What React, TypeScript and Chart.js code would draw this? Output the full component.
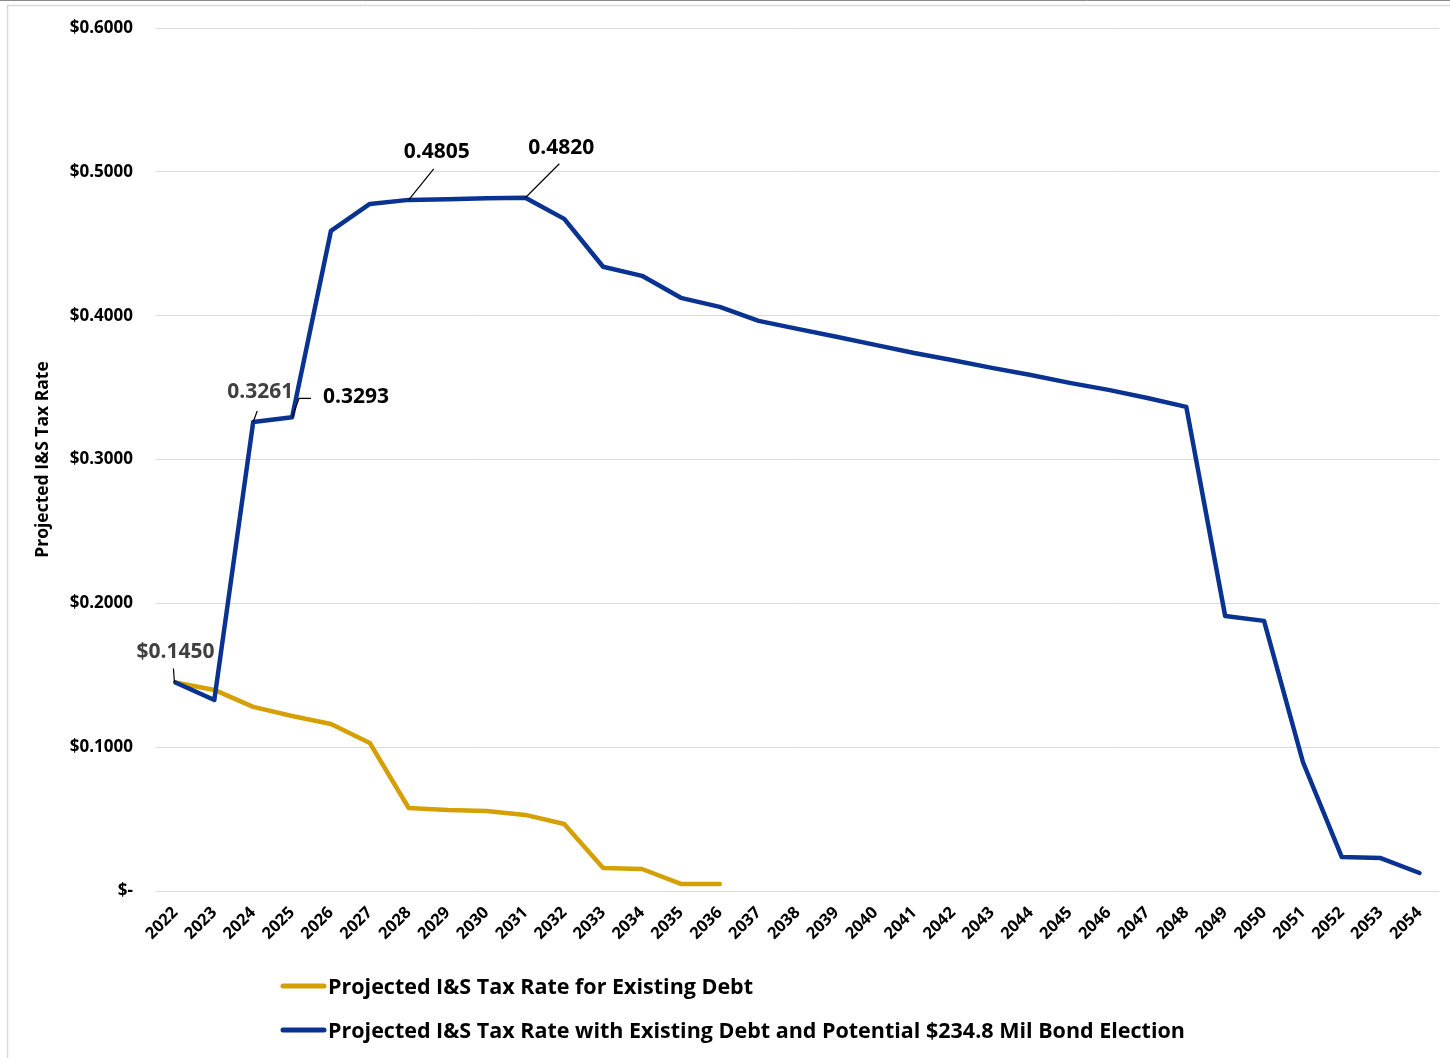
import React, { useEffect, useRef } from "react";
import { Chart, registerables } from "chart.js";

Chart.register(...registerables);

const years: string[] = [
  "2022", "2023", "2024", "2025", "2026", "2027", "2028", "2029", "2030", "2031",
  "2032", "2033", "2034", "2035", "2036", "2037", "2038", "2039", "2040", "2041",
  "2042", "2043", "2044", "2045", "2046", "2047", "2048", "2049", "2050", "2051",
  "2052", "2053", "2054",
];

const existingDebt: number[] = [
  0.145, 0.1398, 0.128, 0.1217, 0.1161, 0.1029, 0.0577, 0.0563, 0.0556, 0.0529,
  0.0466, 0.016, 0.0153, 0.0049, 0.0049,
];

const withBond: number[] = [
  0.145, 0.1328, 0.3261, 0.3293, 0.459, 0.4777, 0.4805, 0.481, 0.4816, 0.482,
  0.4673, 0.434, 0.4277, 0.4124, 0.4061, 0.3964, 0.3908, 0.3853, 0.3797, 0.374,
  0.369, 0.3637, 0.3588, 0.3533, 0.3484, 0.3428, 0.3366, 0.1912, 0.1878, 0.0897,
  0.0236, 0.0229, 0.0125,
];

const yTicks: number[] = [0, 0.1, 0.2, 0.3, 0.4, 0.5, 0.6];

const seriesNames: string[] = [
  "Projected I&S Tax Rate for Existing Debt",
  "Projected I&S Tax Rate with Existing Debt and Potential $234.8 Mil Bond Election",
];

const GOLD = "#D5A003";
const BLUE = "#0A3391";
const FONT = "'Open Sans', Lato, sans-serif";

// annotated points: [year index, label text]
const annotatedIdx: number[] = [0, 2, 3, 6, 9];
const annotatedText: string[] = ["$0.1450", "0.3261", "0.3293", "0.4805", "0.4820"];

// label styling/placement (pixel offsets relative to the point)
const labelStyle = [
  { color: "#404040", dx: 0, dy: -30, leader: [[-1, 0], [-2, -14]] },
  { color: "#404040", dx: 7, dy: -30, leader: [[0, 0], [4, -11]] },
  { color: "#000000", dx: 64, dy: -20, leader: [[0, 0], [7, -19], [19, -19]] },
  { color: "#000000", dx: 28, dy: -48, leader: [[0, 0], [25, -31]] },
  { color: "#000000", dx: 36, dy: -50, leader: [[0, 0], [34, -34]] },
];

export default function App() {
  const ref = useRef<HTMLCanvasElement | null>(null);

  useEffect(() => {
    document.body.style.margin = "0";
    const canvas = ref.current;
    if (!canvas) return;

    const framePlugin = {
      id: "frame",
      beforeDraw(chart: any) {
        const ctx = chart.ctx;
        ctx.save();
        ctx.fillStyle = "#ffffff";
        ctx.fillRect(0, 0, chart.width, chart.height);
        ctx.strokeStyle = "#8a8a8a";
        ctx.lineWidth = 1;
        ctx.beginPath();
        ctx.moveTo(0, 0.5);
        ctx.lineTo(chart.width, 0.5);
        ctx.stroke();
        ctx.strokeStyle = "#d9d9d9";
        ctx.lineWidth = 1.5;
        ctx.beginPath();
        ctx.moveTo(7.5, chart.height);
        ctx.lineTo(7.5, 5.5);
        ctx.lineTo(chart.width, 5.5);
        ctx.stroke();
        ctx.restore();
      },
    };

    const annotationPlugin = {
      id: "annot",
      afterDatasetsDraw(chart: any) {
        const ctx = chart.ctx;
        const meta = chart.getDatasetMeta(0);
        ctx.save();
        ctx.font = `bold 21px ${FONT}`;
        ctx.textAlign = "center";
        ctx.textBaseline = "middle";
        annotatedIdx.forEach((idx, i) => {
          const pt = meta.data[idx];
          const st = labelStyle[i];
          const x = pt.x;
          const y = pt.y;
          ctx.strokeStyle = "#000000";
          ctx.lineWidth = 1.2;
          ctx.beginPath();
          st.leader.forEach((p, j) => {
            if (j === 0) ctx.moveTo(x + p[0], y + p[1]);
            else ctx.lineTo(x + p[0], y + p[1]);
          });
          ctx.stroke();
          ctx.fillStyle = st.color;
          ctx.fillText(annotatedText[i], x + st.dx, y + st.dy);
        });
        ctx.restore();
      },
    };

    const legendPlugin = {
      id: "customLegend",
      afterDraw(chart: any) {
        const ctx = chart.ctx;
        const colors = [GOLD, BLUE];
        const rowsY = [986, 1030];
        ctx.save();
        ctx.font = `bold 21.5px ${FONT}`;
        ctx.textAlign = "left";
        ctx.textBaseline = "middle";
        seriesNames.forEach((name, i) => {
          ctx.strokeStyle = colors[i];
          ctx.lineWidth = 5;
          ctx.lineCap = "round";
          ctx.beginPath();
          ctx.moveTo(283, rowsY[i]);
          ctx.lineTo(324, rowsY[i]);
          ctx.stroke();
          ctx.fillStyle = "#000000";
          ctx.fillText(name, 328, rowsY[i] + 2);
        });
        ctx.restore();
      },
    };

    const chart = new Chart(canvas, {
      type: "line",
      data: {
        labels: years,
        datasets: [
          {
            label: seriesNames[1],
            data: withBond,
            borderColor: BLUE,
            backgroundColor: BLUE,
            borderWidth: 4.5,
            pointRadius: 0,
            tension: 0,
            borderCapStyle: "round",
            borderJoinStyle: "round",
            order: 0,
          },
          {
            label: seriesNames[0],
            data: existingDebt,
            borderColor: GOLD,
            backgroundColor: GOLD,
            borderWidth: 4.5,
            pointRadius: 0,
            tension: 0,
            borderCapStyle: "round",
            borderJoinStyle: "round",
            order: 1,
          },
        ],
      },
      options: {
        responsive: false,
        animation: false,
        layout: { padding: { top: 28, right: 11, bottom: 0, left: 0 } },
        plugins: {
          legend: { display: false },
          tooltip: { enabled: false },
          title: { display: false },
        },
        scales: {
          x: {
            type: "category",
            offset: true,
            grid: { display: false },
            border: { display: false },
            ticks: {
              minRotation: 45,
              maxRotation: 45,
              autoSkip: false,
              padding: 4,
              color: "#000000",
              font: { family: FONT, size: 16.5, weight: "bold" },
            },
            afterFit(scale: any) {
              scale.height = 167;
            },
          },
          y: {
            min: 0,
            max: 0.6,
            grid: { color: "#d9d9d9", lineWidth: 1, drawTicks: false },
            border: { display: false },
            afterBuildTicks(scale: any) {
              scale.ticks = yTicks.map((v) => ({ value: v }));
            },
            ticks: {
              padding: 23,
              color: "#000000",
              font: { family: FONT, size: 17, weight: "bold" },
              callback: (v: any) => (Number(v) === 0 ? "$-" : "$" + Number(v).toFixed(4)),
            },
            title: {
              display: true,
              text: "Projected I&S Tax Rate",
              color: "#000000",
              font: { family: FONT, size: 17.5, weight: "bold" },
              padding: { top: 33, bottom: 0 },
            },
            afterFit(scale: any) {
              scale.width = 156;
              scale.paddingTop = 0;
              scale.paddingBottom = 0;
            },
          },
        },
      },
      plugins: [framePlugin, annotationPlugin, legendPlugin],
    } as any);

    return () => chart.destroy();
  }, []);

  return (
    <div style={{ width: 1450, height: 1058, position: "relative" }}>
      <canvas ref={ref} width={1450} height={1058} style={{ display: "block" }} />
    </div>
  );
}
